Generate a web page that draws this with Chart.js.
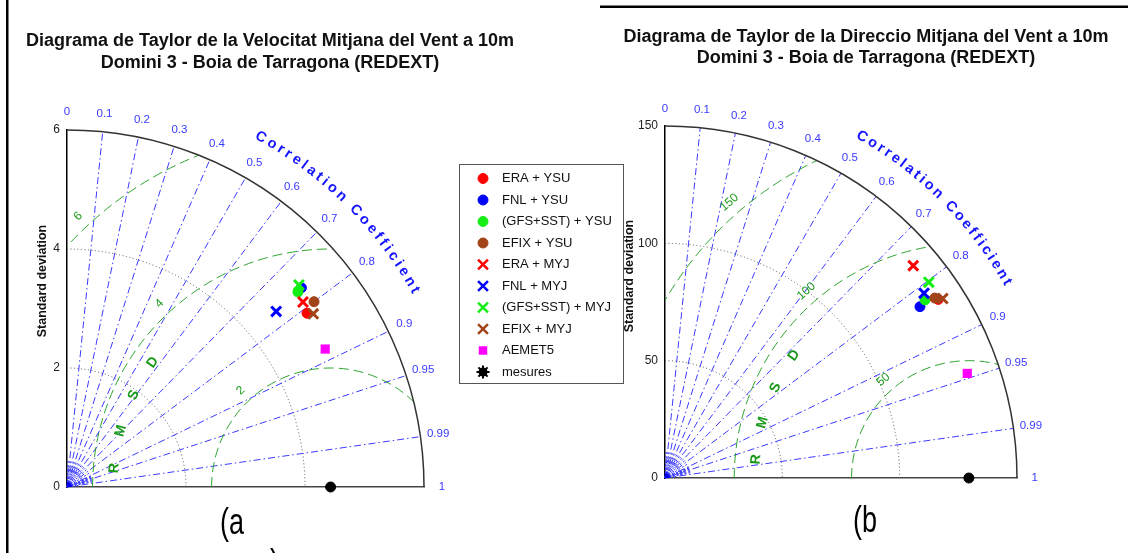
<!DOCTYPE html>
<html><head><meta charset="utf-8">
<script src="https://cdn.jsdelivr.net/npm/chart.js@4/dist/chart.umd.min.js"></script>
<style>
html,body{margin:0;padding:0;background:#fff;width:1128px;height:553px;overflow:hidden;}
#ca{position:absolute;left:0;top:0;}
#cb{position:absolute;left:600px;top:0;}
</style></head><body>
<canvas id="ca" width="640" height="553"></canvas>
<canvas id="cb" width="528" height="553"></canvas>
<script>
// ---------- DATA ----------
const seriesNames = ['ERA + YSU','FNL + YSU','(GFS+SST) + YSU','EFIX + YSU','ERA + MYJ','FNL + MYJ','(GFS+SST) + MYJ','EFIX + MYJ','AEMET5','mesures'];
// (a) wind speed: standard deviation and correlation
const speedStd  = [4.98, 5.17, 5.08, 5.19, 5.04, 4.59, 5.17, 5.06, 4.92, 4.43];
const speedCorr = [0.810, 0.762, 0.764, 0.800, 0.787, 0.766, 0.754, 0.818, 0.882, 1];
// (b) wind direction
const dirStd  = [139.1, 130.9, 134.3, 138.2, 139.2, 135.6, 140.0, 140.9, 136.3, 129.5];
const dirCorr = [0.837, 0.830, 0.825, 0.832, 0.760, 0.814, 0.803, 0.840, 0.945, 1];
// axes / ticks
const corrTicks = [0, 0.1, 0.2, 0.3, 0.4, 0.5, 0.6, 0.7, 0.8, 0.9, 0.95, 0.99, 1];
const corrLabels = ['0','0.1','0.2','0.3','0.4','0.5','0.6','0.7','0.8','0.9','0.95','0.99','1'];
const corrMinor = [0.05,0.15,0.25,0.35,0.45,0.55,0.65,0.75,0.85,0.91,0.92,0.93,0.94,0.96,0.97,0.98];
const speedStdTicks = [0, 2, 4, 6];
const dirStdTicks = [0, 50, 100, 150];
const speedStdArcs = [2, 4];
const dirStdArcs = [50, 100];
const speedRmsTicks = [2, 4, 6];
const dirRmsTicks = [50, 100, 150];
const rmsdLetters = ['R','M','S','D'];
const titleA = ['Diagrama de Taylor de la Velocitat Mitjana del Vent a 10m', 'Domini 3 - Boia de Tarragona (REDEXT)'];
const titleB = ['Diagrama de Taylor de la Direccio Mitjana del Vent a 10m', 'Domini 3 - Boia de Tarragona (REDEXT)'];

// ---------- STYLE ----------
const FONT = '"Liberation Sans", Arial, sans-serif';
const colors = ['#ff0000','#0000ff','#14ee14','#a2441a','#ff0000','#0000ff','#14ee14','#a2441a','#ff00ff','#000000'];
const shapes = ['circle','circle','circle','circle','crossRot','crossRot','crossRot','crossRot','rect','circle'];
const radii  = [5, 5, 5, 5, 7, 7, 7, 7, 6.5, 5];
const widths = [1, 1, 1, 1, 3, 3, 3, 3, 0, 1];
const CORR_COLOR = '#3a3aff';

function toXY(sd, c) { return {x: sd * c, y: sd * Math.sqrt(Math.max(0, 1 - c * c))}; }

const taylorPlugin = {
  id: 'taylor',
  beforeDatasetsDraw(chart, args, o) {
    const ctx = chart.ctx, xs = chart.scales.x, ys = chart.scales.y;
    const ox = xs.getPixelForValue(0), oy = ys.getPixelForValue(0);
    const k = xs.getPixelForValue(1) - ox;
    const R = o.maxStd * k;
    const obsX = xs.getPixelForValue(o.obs);
    ctx.save();
    // std dotted arcs
    ctx.strokeStyle = '#555'; ctx.lineWidth = 1; ctx.setLineDash([1, 2.5]);
    o.stdArcs.forEach(s => { ctx.beginPath(); ctx.arc(ox, oy, s * k, -Math.PI / 2, 0); ctx.stroke(); });
    // correlation lines
    ctx.strokeStyle = CORR_COLOR; ctx.lineWidth = 1; ctx.setLineDash([7, 3, 1.5, 3]);
    corrTicks.forEach(c => {
      if (c <= 0 || c >= 1) return;
      const t = Math.acos(c);
      ctx.beginPath(); ctx.moveTo(ox, oy); ctx.lineTo(ox + R * Math.cos(t), oy - R * Math.sin(t)); ctx.stroke();
    });
    ctx.setLineDash([2, 2]);
    corrMinor.forEach(c => {
      const t = Math.acos(c);
      ctx.beginPath(); ctx.moveTo(ox, oy); ctx.lineTo(ox + 0.075 * R * Math.cos(t), oy - 0.075 * R * Math.sin(t)); ctx.stroke();
    });
    [0.025, 0.045].forEach(f => { ctx.beginPath(); ctx.arc(ox, oy, f * R, -Math.PI / 2, 0); ctx.stroke(); });
    ctx.setLineDash([]);
    ctx.fillStyle = '#0000ee';
    ctx.beginPath(); ctx.moveTo(ox, oy); ctx.arc(ox, oy, 5, -Math.PI / 2, 0); ctx.closePath(); ctx.fill();
    // RMS arcs, clipped to the quarter disc
    ctx.save();
    ctx.beginPath(); ctx.moveTo(ox, oy); ctx.arc(ox, oy, R, -Math.PI / 2, 0); ctx.closePath(); ctx.clip();
    ctx.strokeStyle = 'rgba(25,155,25,0.9)'; ctx.lineWidth = 1; ctx.setLineDash([10, 5]);
    o.rms.forEach(r => { ctx.beginPath(); ctx.arc(obsX, oy, r * k, Math.PI, 2 * Math.PI); ctx.stroke(); });
    ctx.restore();
    // outer arc
    ctx.setLineDash([]); ctx.strokeStyle = '#333'; ctx.lineWidth = 1.5;
    ctx.beginPath(); ctx.arc(ox, oy, R, -Math.PI / 2, 0); ctx.stroke();
    // correlation labels
    ctx.fillStyle = CORR_COLOR; ctx.font = '11.5px ' + FONT; ctx.textAlign = 'center'; ctx.textBaseline = 'middle';
    corrTicks.forEach((c, i) => {
      const t = Math.acos(c), rr = 1.05 * R;
      ctx.fillText(corrLabels[i], ox + rr * Math.cos(t), oy - rr * Math.sin(t));
    });
    // "Correlation Coefficient" along arc
    ctx.font = 'bold 14.5px ' + FONT; ctx.fillStyle = '#1414ff';
    const txt = [...'Correlation Coefficient'];
    const w = txt.map(ch => ctx.measureText(ch).width);
    const rr = 1.12 * R, a0 = o.ccStart * Math.PI / 180, a1 = o.ccEnd * Math.PI / 180;
    const inner = w.reduce((a, b) => a + b, 0) - w[0] / 2 - w[w.length - 1] / 2;
    const gap = (rr * (a0 - a1) - inner) / (txt.length - 1);
    let s = 0;
    txt.forEach((ch, i) => {
      if (i > 0) s += w[i - 1] / 2 + gap + w[i] / 2;
      const a = a0 - s / rr;
      ctx.save(); ctx.translate(ox + rr * Math.cos(a), oy - rr * Math.sin(a)); ctx.rotate(Math.PI / 2 - a);
      ctx.fillText(ch, 0, 0); ctx.restore();
    });
    // RMS labels
    ctx.fillStyle = '#1a9a1a'; ctx.font = '12px ' + FONT;
    const phi = o.rmsLabelAngle * Math.PI / 180;
    o.rms.forEach(r => {
      const d = r * k + 13;
      ctx.save(); ctx.translate(obsX + d * Math.cos(phi), oy - d * Math.sin(phi)); ctx.rotate(Math.PI / 2 - phi);
      ctx.fillText(String(r), 0, 0); ctx.restore();
    });
    // RMSD letters
    ctx.font = 'bold 14px ' + FONT;
    rmsdLetters.forEach((L, i) => {
      const a = (175 - 10 * i) * Math.PI / 180, d = o.rmsdR * k;
      ctx.save(); ctx.translate(obsX + d * Math.cos(a), oy - d * Math.sin(a)); ctx.rotate(Math.PI / 2 - a);
      ctx.fillText(L, 0, 0); ctx.restore();
    });
    ctx.restore();
  },
  afterDraw(chart, args, o) {
    const ctx = chart.ctx;
    ctx.save();
    // titles
    ctx.fillStyle = '#111'; ctx.textAlign = 'center'; ctx.textBaseline = 'middle';
    ctx.font = 'bold 18px ' + FONT;
    o.title.forEach((t, i) => ctx.fillText(t, o.titleX, o.titleY[i]));
    // y axis title
    ctx.font = 'bold 12.5px ' + FONT;
    ctx.save(); ctx.translate(o.ytX, o.ytY); ctx.rotate(-Math.PI / 2); ctx.fillText('Standard deviation', 0, 0); ctx.restore();
    // panel label
    ctx.font = '27px ' + FONT; ctx.textAlign = 'left'; ctx.textBaseline = 'alphabetic'; ctx.fillStyle = '#000';
    ctx.save(); ctx.translate(o.panelX, o.panelY); ctx.scale(1, 1.4); ctx.fillText(o.panel, 0, 0); ctx.restore();
    if (o.extraParen) {
      ctx.save(); ctx.translate(o.extraParen[0], o.extraParen[1]); ctx.scale(1, 1.4); ctx.fillText(')', 0, 0); ctx.restore();
    }
    // frame lines
    ctx.fillStyle = '#000';
    if (o.frameLeft !== undefined) ctx.fillRect(o.frameLeft, 0, 2.5, chart.height);
    if (o.frameTop !== undefined) ctx.fillRect(0, o.frameTop, chart.width, 2.5);
    // legend
    if (o.legend) {
      const L = o.legend;
      ctx.strokeStyle = '#555'; ctx.lineWidth = 1;
      ctx.strokeRect(L.x, L.y, L.w, L.h);
      ctx.font = '13px ' + FONT; ctx.textBaseline = 'middle'; ctx.textAlign = 'left';
      chart.data.datasets.forEach((ds, i) => {
        const y = L.y0 + i * L.step;
        ctx.fillStyle = ds.backgroundColor; ctx.strokeStyle = ds.borderColor;
        if (i === chart.data.datasets.length - 1) {
          ctx.lineWidth = 2;
          Chart.helpers.drawPoint(ctx, {pointStyle: 'star', radius: 6.5, borderWidth: 2, rotation: 0}, L.mx, y);
          Chart.helpers.drawPoint(ctx, {pointStyle: 'circle', radius: 4.5, borderWidth: 0, rotation: 0}, L.mx, y);
        } else {
          const isX = ds.pointStyle === 'crossRot';
          ctx.lineWidth = isX ? 2.5 : 1;
          Chart.helpers.drawPoint(ctx, {pointStyle: ds.pointStyle, radius: isX ? 7 : (ds.pointStyle === 'rect' ? 6 : 5), borderWidth: ds.borderWidth, rotation: 0}, L.mx, y);
        }
        ctx.fillStyle = '#111';
        ctx.fillText(ds.label, L.tx, y);
      });
    }
    ctx.restore();
  }
};

function makeChart(id, cfg) {
  const datasets = seriesNames.map((name, i) => ({
    label: name,
    data: [toXY(cfg.std[i], cfg.corr[i])],
    pointStyle: shapes[i],
    pointRadius: radii[i],
    borderWidth: widths[i],
    backgroundColor: colors[i],
    borderColor: colors[i],
    clip: false,
    order: seriesNames.length - i
  }));
  return new Chart(document.getElementById(id), {
    type: 'scatter',
    data: {datasets},
    options: {
      responsive: false, animation: false, events: [],
      layout: {padding: cfg.padding},
      scales: {
        x: {type: 'linear', min: 0, max: cfg.max, ticks: {display: false}, grid: {display: false, drawTicks: false},
            border: {display: true, color: '#444', width: 1.5}, afterFit: s => { s.height = 0; }},
        y: {type: 'linear', min: 0, max: cfg.max,
            afterBuildTicks: s => { s.ticks = cfg.stdTicks.map(v => ({value: v})); },
            ticks: {color: '#222', font: {family: FONT, size: 12}, padding: 7},
            grid: {display: false, drawTicks: false},
            border: {display: true, color: '#000', width: 1.5}, afterFit: s => { s.width = cfg.yWidth; }}
      },
      plugins: {legend: {display: false}, tooltip: {enabled: false}, taylor: cfg.taylor}
    },
    plugins: [taylorPlugin]
  });
}

makeChart('ca', {
  std: speedStd, corr: speedCorr, max: speedStdTicks[speedStdTicks.length - 1], stdTicks: speedStdTicks,
  padding: {left: 0, top: 130, right: 640 - 424, bottom: 553 - 487}, yWidth: 67,
  taylor: {
    maxStd: 6, obs: speedStd[9], stdArcs: speedStdArcs, rms: speedRmsTicks, rmsLabelAngle: 133, rmsdR: 3.65,
    ccStart: 61, ccEnd: 29.5,
    title: titleA, titleX: 270, titleY: [41, 63], ytX: 43, ytY: 281,
    panel: '(a', panelX: 220, panelY: 534, extraParen: [270, 575], frameLeft: 6,
    legend: {x: 459.5, y: 164.5, w: 164, h: 219, y0: 178.5, step: 21.5, mx: 483, tx: 502}
  }
});
makeChart('cb', {
  std: dirStd, corr: dirCorr, max: dirStdTicks[dirStdTicks.length - 1], stdTicks: dirStdTicks,
  padding: {left: 0, top: 126, right: 528 - 417, bottom: 553 - 478}, yWidth: 65,
  taylor: {
    maxStd: 150, obs: dirStd[9], stdArcs: dirStdArcs, rms: dirRmsTicks, rmsLabelAngle: 131, rmsdR: 91,
    ccStart: 60, ccEnd: 29.8,
    title: titleB, titleX: 266, titleY: [37, 58], ytX: 30, ytY: 276,
    panel: '(b', panelX: 253, panelY: 532, frameTop: 5.5
  }
});
</script>
</body></html>
